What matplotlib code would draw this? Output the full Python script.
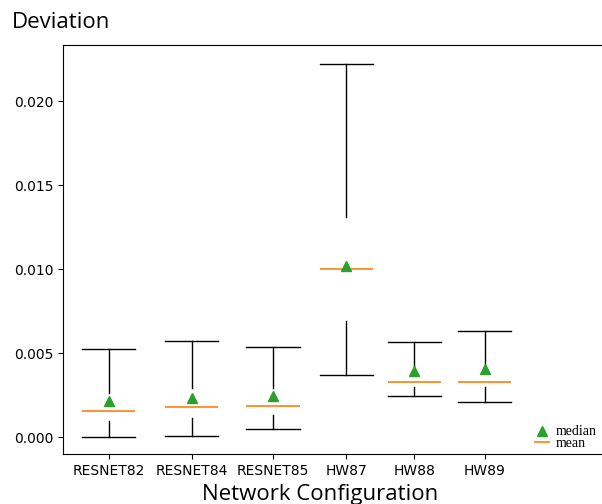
import matplotlib
matplotlib.use("Agg")
import matplotlib.pyplot as plt

# network configurations and their deviation statistics
labels = ["RESNET82", "RESNET84", "RESNET85", "HW87", "HW88", "HW89"]
positions = [1.0, 2.0, 2.98, 3.86, 4.68, 5.53]

whislo = [0.00004, 0.00010, 0.00049, 0.00371, 0.00244, 0.00212]
q1 = [0.00097, 0.00113, 0.00133, 0.00694, 0.00298, 0.00298]
med = [0.00157, 0.00182, 0.00188, 0.01004, 0.00327, 0.00327]
mean = [0.00218, 0.00236, 0.00246, 0.01021, 0.00395, 0.00405]
q3 = [0.00262, 0.00292, 0.00292, 0.01313, 0.00410, 0.00415]
whishi = [0.00524, 0.00575, 0.00537, 0.02222, 0.00567, 0.00631]

stats = []
for i in range(len(labels)):
    stats.append(dict(label=labels[i], whislo=whislo[i], q1=q1[i], med=med[i],
                      mean=mean[i], q3=q3[i], whishi=whishi[i], fliers=[]))

fig = plt.figure(figsize=(6.02, 5.04), dpi=100)
ax = fig.add_axes([0.1051, 0.0986, 0.8949, 0.8121])

res = ax.bxp(stats, positions=positions, widths=0.64, capwidths=0.64,
             showbox=False, showmeans=True, showfliers=False,
             medianprops=dict(color="#ff7f0e", linewidth=1.2),
             meanprops=dict(marker="^", markerfacecolor="#2ca02c",
                            markeredgecolor="#2ca02c", markersize=7))

ax.set_xlim(0.453, 6.943)
ax.set_ylim(-0.00101, 0.02335)
ax.set_xticks(positions)
ax.set_xticklabels(labels)
ax.spines["right"].set_visible(False)

# legend labels are swapped on purpose (as in the original)
ax.legend([res["means"][0], res["medians"][0]], ["median", "mean"],
          loc="lower left", bbox_to_anchor=(0.85, -0.02), frameon=False,
          prop=dict(family="Liberation Serif", size=10), handlelength=1.2,
          handletextpad=0.35, labelspacing=-0.1)

fig.text(0.02, 0.945, "Deviation", fontsize=16, family="Open Sans")
fig.text(0.532, 0.008, "Network Configuration", fontsize=16, family="Open Sans",
         ha="center")

fig.savefig("out.png", dpi=100)
